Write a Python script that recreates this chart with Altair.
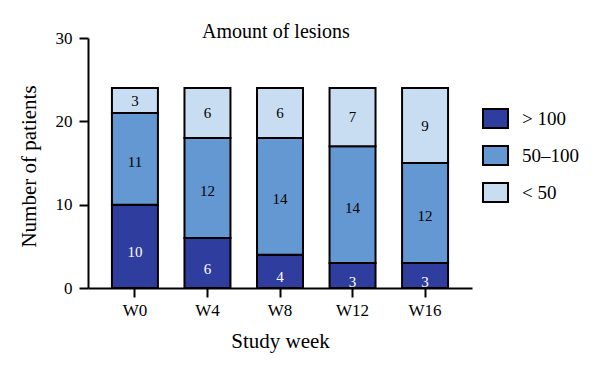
import altair as alt
import pandas as pd

weeks = ["W0", "W4", "W8", "W12", "W16"]
groups = ["> 100", "50–100", "< 50"]
gt100 = [10, 6, 4, 3, 3]
mid100 = [11, 12, 14, 14, 12]
lt50 = [3, 6, 6, 7, 9]
colors = ["#2F3E9E", "#6498D2", "#C9DDF2"]
label_colors = ["white", "black", "black"]
label_dy = [6, 3, 0]

rows = []
for gi, (g, vals) in enumerate(zip(groups, [gt100, mid100, lt50])):
    for w, v in zip(weeks, vals):
        rows.append({"week": w, "group": g, "order": gi, "n": v})
df = pd.DataFrame(rows)

FONT = "Liberation Serif"

base = alt.Chart(df).transform_stack(
    stack="n", groupby=["week"], sort=[alt.SortField("order")], as_=["y0", "y1"]
).transform_calculate(mid="(datum.y0 + datum.y1) / 2")

x_enc = alt.X(
    "week:N",
    sort=weeks,
    scale=alt.Scale(paddingInner=0.366, paddingOuter=0.33),
    axis=alt.Axis(
        title="Study week",
        labelAngle=0,
        labelFont=FONT,
        labelFontSize=17,
        labelColor="black",
        labelPadding=5,
        tickSize=9,
        tickWidth=2,
        tickColor="black",
        domainWidth=2,
        domainColor="black",
        titleFont=FONT,
        titleFontSize=21,
        titleFontWeight="normal",
        titleColor="black",
        titleBaseline="alphabetic",
        titleY=59,
    ),
)

y_scale = alt.Scale(domain=[0, 30])

bars = base.mark_bar(stroke="black", strokeWidth=2, opacity=1).encode(
    x=x_enc,
    y=alt.Y(
        "y0:Q",
        scale=y_scale,
        axis=alt.Axis(
            title="Number of patients",
            values=[0, 10, 20, 30],
            grid=False,
            labelFont=FONT,
            labelFontSize=17,
            labelColor="black",
            labelPadding=7,
            tickSize=9,
            tickWidth=2,
            tickColor="black",
            domainWidth=2,
            domainColor="black",
            titleFont=FONT,
            titleFontSize=21,
            titleFontWeight="normal",
            titleColor="black",
            titleX=-49,
            titleY=128,
        ),
    ),
    y2="y1:Q",
    color=alt.Color(
        "group:N",
        scale=alt.Scale(domain=groups, range=colors),
        legend=alt.Legend(
            title=None,
            orient="none",
            legendX=394,
            legendY=67,
            padding=0,
            symbolType="M-1,-0.76H1V0.76H-1Z",
            symbolSize=625,
            symbolStrokeColor="black",
            symbolStrokeWidth=2,
            symbolOpacity=1,
            labelFont=FONT,
            labelFontSize=19,
            labelColor="black",
            labelOffset=13,
            rowPadding=10,
        ),
    ),
)

layers = [bars]
for gi in range(3):
    t = base.transform_filter(f"datum.order == {gi}").mark_text(
        font=FONT, fontSize=15, color=label_colors[gi], dy=label_dy[gi], baseline="middle"
    ).encode(
        x=alt.X("week:N", sort=weeks),
        y=alt.Y("mid:Q", scale=y_scale),
        text="n:Q",
    )
    layers.append(t)

chart = alt.layer(*layers).properties(
    width=384,
    height=250,
    title=alt.TitleParams(
        "Amount of lesions",
        font=FONT,
        fontSize=20,
        fontWeight="normal",
        color="black",
        anchor="middle",
        baseline="alphabetic",
        offset=1,
        dy=30,
        dx=-4,
    ),
    autosize=alt.AutoSizeParams(type="none"),
    padding={"left": 80, "top": 30, "right": 120, "bottom": 70},
).configure_view(stroke=None)

chart.save("out.html", embed_options={"renderer": "svg", "actions": False})
